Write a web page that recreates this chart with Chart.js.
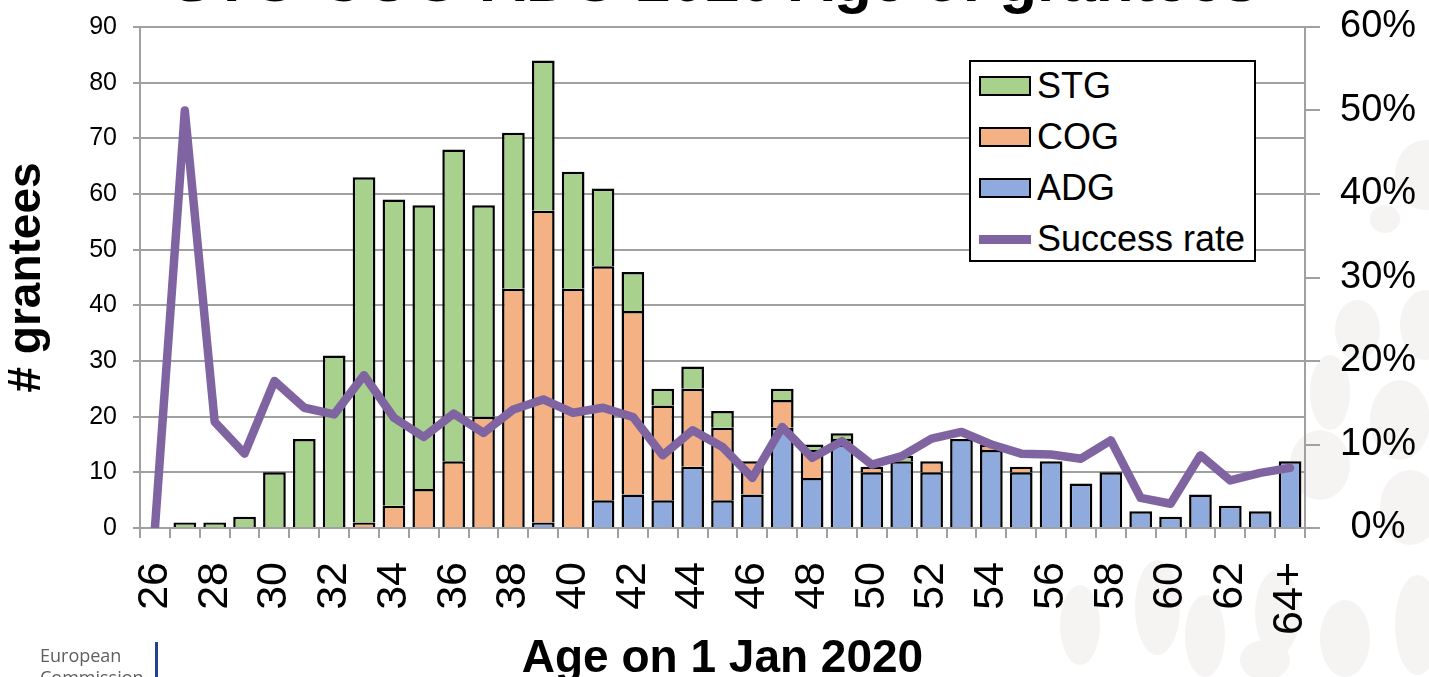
<!DOCTYPE html>
<html>
<head>
<meta charset="utf-8">
<script src="https://cdn.jsdelivr.net/npm/chart.js@4.4.0/dist/chart.umd.min.js"></script>
<style>
body{margin:0;background:#fff;overflow:hidden;}
#wrap{position:relative;width:1429px;height:677px;overflow:hidden;font-family:"Liberation Sans",Arial,sans-serif;}
.blob{position:absolute;border-radius:50%;background:#f6f3f3;}
#title{position:absolute;left:0;width:1429px;top:-51px;text-align:center;font-size:62px;line-height:62px;font-weight:bold;color:#000;white-space:nowrap;}
#chart{position:absolute;left:0;top:0;}
#legend{position:absolute;left:969px;top:60px;width:283px;height:198px;border:2px solid #000;background:#fff;}
#legend .row{position:absolute;left:8px;height:40px;display:flex;align-items:center;font-size:36px;color:#000;}
#legend .sw{width:48px;height:16px;border:2px solid #000;margin-right:6px;}
#legend .ln{width:52px;height:9px;margin-right:6px;}
#ec{position:absolute;left:40px;top:644px;font-family:"Open Sans",sans-serif;font-size:18px;line-height:22px;color:#5e5e5e;}
#ecbar{position:absolute;left:155px;top:642px;width:3px;height:40px;background:#25408f;}
</style>
</head>
<body>
<div id="wrap">
  <div class="blob" style="left:1395px;top:140px;width:60px;height:70px"></div>
  <div class="blob" style="left:1370px;top:205px;width:30px;height:28px"></div>
  <div class="blob" style="left:1400px;top:290px;width:50px;height:70px"></div>
  <div class="blob" style="left:1335px;top:300px;width:45px;height:60px"></div>
  <div class="blob" style="left:1310px;top:355px;width:40px;height:75px"></div>
  <div class="blob" style="left:1370px;top:380px;width:60px;height:80px"></div>
  <div class="blob" style="left:1290px;top:430px;width:60px;height:70px"></div>
  <div class="blob" style="left:1380px;top:470px;width:60px;height:75px"></div>
  <div class="blob" style="left:1060px;top:585px;width:40px;height:80px"></div>
  <div class="blob" style="left:1135px;top:560px;width:45px;height:95px"></div>
  <div class="blob" style="left:1185px;top:595px;width:40px;height:82px"></div>
  <div class="blob" style="left:1255px;top:570px;width:45px;height:85px"></div>
  <div class="blob" style="left:1320px;top:600px;width:50px;height:77px"></div>
  <div class="blob" style="left:1395px;top:575px;width:45px;height:100px"></div>
  <div class="blob" style="left:1240px;top:640px;width:50px;height:40px"></div>
  <div id="title">STG-COG-ADG 2020 Age of grantees</div>
  <canvas id="chart" width="1429" height="677"></canvas>
  <div id="legend"></div>
  <div id="ec">European<br>Commission</div>
  <div id="ecbar"></div>
</div>
<script>
// ── Data ────────────────────────────────────────────────────────────────────
const ages = ["26","27","28","29","30","31","32","33","34","35","36","37","38","39","40",
  "41","42","43","44","45","46","47","48","49","50","51","52","53","54","55","56","57",
  "58","59","60","61","62","63","64+"];
const adg = [0,0,0,0,0,0,0,0,0,0,0,0,0,1,0,5,6,5,11,5,6,18,9,15,10,12,10,16,14,10,12,8,10,3,2,6,4,3,12];
const cog = [0,0,0,0,0,0,0,1,4,7,12,20,43,56,43,42,33,17,14,13,6,5,5,1,1,0,2,0,1,1,0,0,0,0,0,0,0,0,0];
const stg = [0,1,1,2,10,16,31,62,55,51,56,38,28,27,21,14,7,3,4,3,0,2,1,1,0,1,0,0,0,0,0,0,0,0,0,0,0,0,0];
const successRate = [0,50,12.7,8.9,17.6,14.4,13.6,18.3,13.2,10.9,13.7,11.4,14.2,15.4,13.8,14.4,13.3,
  8.7,11.7,9.7,6.0,12.1,8.4,10.4,7.6,8.6,10.7,11.5,10.0,8.9,8.8,8.3,10.5,3.6,2.9,8.7,5.7,6.6,7.2];

const COL = {STG:"#a9d18e", COG:"#f4b183", ADG:"#8faadc", RATE:"#8064a2"};
const GRID = "#a0a0a0";
const FONT = "'Liberation Sans', Arial, sans-serif";

// ── Chart ───────────────────────────────────────────────────────────────────
Chart.defaults.font.family = FONT;
Chart.defaults.color = "#000";

const barDs = (label, data, color) => ({
  type:"bar", label, data, backgroundColor:color, borderColor:"#000",
  borderWidth:2.5, borderSkipped:"start", barPercentage:0.76, categoryPercentage:1,
  yAxisID:"y", order:1
});

// fixed axis box sizes so the plot area lands where the slide has it
const fixV = w => s => { s.width = w; s.paddingTop = 0; s.paddingBottom = 0; };

const chart = new Chart(document.getElementById("chart"), {
  data:{
    labels:ages,
    datasets:[
      barDs("ADG", adg, COL.ADG),
      barDs("COG", cog, COL.COG),
      barDs("STG", stg, COL.STG),
      {type:"line", label:"Success rate", data:successRate, borderColor:COL.RATE,
       backgroundColor:COL.RATE, borderWidth:8.5, pointRadius:0, tension:0,
       borderJoinStyle:"round", borderCapStyle:"round", yAxisID:"y1", order:0}
    ]
  },
  options:{
    responsive:false, animation:false,
    layout:{padding:{top:27,left:0,right:0,bottom:0}},
    plugins:{legend:{display:false}, tooltip:{enabled:false}},
    scales:{
      x:{stacked:true,
         grid:{drawOnChartArea:false, offset:true, tickLength:10, color:GRID, lineWidth:2},
         border:{display:true, color:GRID, width:2},
         ticks:{autoSkip:false, maxRotation:90, minRotation:90, padding:24,
                font:{size:43}, callback:(v,i)=> i%2===0 ? ages[i] : ""},
         title:{display:true, text:"Age on 1 Jan 2020", font:{size:46, weight:"bold", lineHeight:0.9},
                padding:{top:0,bottom:-3}},
         afterFit:s=>{ s.height = 149; s.paddingLeft = 0; s.paddingRight = 0; }},
      y:{stacked:true, position:"left", min:0, max:90,
         grid:{color:GRID, lineWidth:2, tickLength:7},
         border:{display:true, color:GRID, width:2},
         ticks:{stepSize:10, padding:16, font:{size:25}},
         title:{display:true, text:"# grantees", font:{size:46, weight:"bold"}, padding:{top:0,bottom:0}},
         afterFit:fixV(140)},
      y1:{position:"right", min:0, max:60,
          grid:{drawOnChartArea:false, color:GRID, lineWidth:2, tickLength:15},
          border:{display:true, color:GRID, width:2},
          ticks:{stepSize:10, padding:20, crossAlign:"center", font:{size:38},
                 callback:v=> v+"%"},
          afterFit:fixV(124)}
    }
  }
});

// ── Legend ──────────────────────────────────────────────────────────────────
const legendItems = [
  {label:"STG", color:COL.STG, kind:"box"},
  {label:"COG", color:COL.COG, kind:"box"},
  {label:"ADG", color:COL.ADG, kind:"box"},
  {label:"Success rate", color:COL.RATE, kind:"line"}
];
const lg = document.getElementById("legend");
legendItems.forEach((it,i)=>{
  const row = document.createElement("div");
  row.className = "row";
  row.style.top = (4 + i*51) + "px";
  const sw = document.createElement("div");
  sw.className = it.kind==="box" ? "sw" : "ln";
  sw.style.background = it.color;
  const tx = document.createElement("span");
  tx.textContent = it.label;
  row.appendChild(sw); row.appendChild(tx);
  lg.appendChild(row);
});
</script>
</body>
</html>
